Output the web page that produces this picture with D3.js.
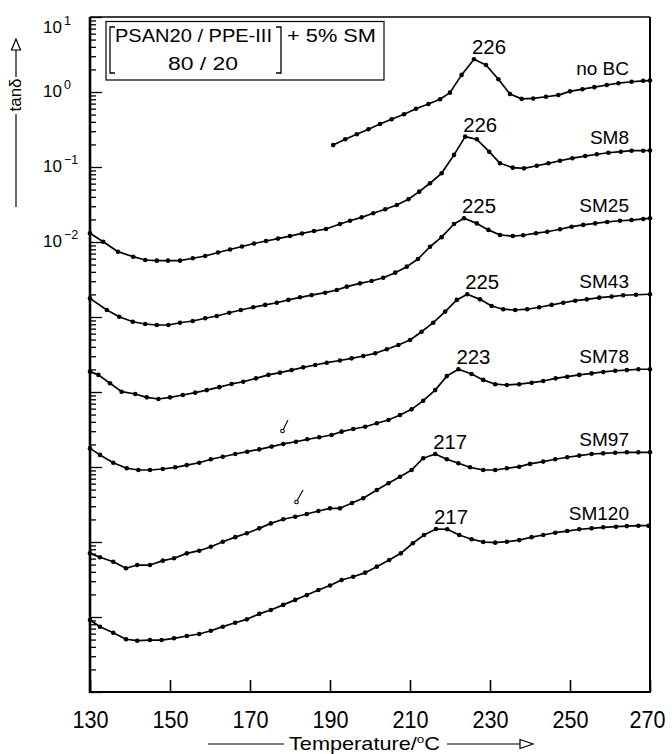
<!DOCTYPE html>
<html><head><meta charset="utf-8">
<script src="https://cdn.jsdelivr.net/npm/d3@7"></script>
<style>
html,body{margin:0;padding:0;background:#fff;}
svg{display:block;}
text{font-family:"Liberation Sans", Arial, Helvetica, sans-serif; fill:#000;}
.narrow{font-family:"Liberation Sans Narrow","Liberation Sans", Arial, sans-serif;}
</style></head><body>
<svg id="chart" width="672" height="754"></svg>
<script>
// ---------- DATA (temperature °C, tanδ) ----------
const seriesNames = ["no BC","SM8","SM25","SM43","SM78","SM97","SM120"];
const peakLabels  = ["226","226","225","225","223","217","217"];
const xTicks = [130,150,170,190,210,230,250,270];
const yLabelExps = [1,0,-1,-2];

const noBC = [[190.8,0.196],[193.8,0.234],[196.7,0.273],[199.6,0.318],[202.5,0.374],[205.4,0.433],[208.5,0.505],[211.5,0.599],[214.6,0.692],[217.5,0.80],[220,0.98],[222.9,1.69],[226,2.73],[229,2.29],[232.1,1.48],[235,0.94],[237.9,0.81],[240.8,0.82],[244,0.865],[247.1,0.91],[250,1.02],[253.1,1.09],[256.1,1.16],[259.2,1.24],[262.1,1.31],[265.4,1.37],[268.3,1.41],[270,1.42]];

const SM8 = [[130,1.31e-2],[133.3,1.01e-2],[137,7.43e-3],[140.8,6.37e-3],[143.8,5.75e-3],[146.7,5.64e-3],[149.5,5.64e-3],[152.5,5.64e-3],[155.7,6.07e-3],[158.8,6.5e-3],[162,7.24e-3],[165,7.94e-3],[168,8.71e-3],[171,9.55e-3],[174,1.03e-2],[177,1.11e-2],[180,1.2e-2],[183,1.3e-2],[186,1.4e-2],[189,1.49e-2],[192.5,1.74e-2],[195,1.92e-2],[197.9,2.13e-2],[200.8,2.42e-2],[203.8,2.73e-2],[206.7,3.11e-2],[209.6,3.71e-2],[212.3,4.69e-2],[215,6.07e-2],[217.9,8.24e-2],[221,0.145],[223.8,0.254],[226.7,0.234],[229.8,0.16],[232.5,0.112],[235.7,0.098],[238.5,0.096],[241.7,0.104],[244.6,0.112],[247.5,0.121],[250.6,0.131],[253.8,0.14],[256.7,0.148],[259.6,0.155],[262.7,0.16],[265.4,0.165],[268.3,0.165],[270,0.166]];

const SM25 = [[130,1.77e-3],[134.2,1.24e-3],[137.3,1.01e-3],[140.7,8.65e-4],[143.8,8.07e-4],[146.7,7.82e-4],[149.6,7.82e-4],[152.5,8.39e-4],[155.7,8.85e-4],[158.8,9.62e-4],[161.7,1.03e-3],[164.8,1.14e-3],[167.7,1.24e-3],[170.8,1.35e-3],[173.8,1.45e-3],[176.7,1.55e-3],[179.6,1.69e-3],[182.5,1.83e-3],[185.4,1.96e-3],[188.8,2.11e-3],[191.7,2.29e-3],[194.2,2.54e-3],[197.5,2.81e-3],[200.4,3.02e-3],[203.3,3.34e-3],[206.3,3.9e-3],[209.2,4.69e-3],[212,5.93e-3],[215,8.65e-3],[217.9,1.16e-2],[221,1.74e-2],[223.5,2.07e-2],[226.7,1.77e-2],[229.6,1.45e-2],[232.5,1.24e-2],[235.7,1.2e-2],[238.3,1.23e-2],[241.5,1.31e-2],[244.3,1.37e-2],[247.5,1.48e-2],[250.4,1.6e-2],[253.3,1.69e-2],[256.3,1.77e-2],[259.3,1.85e-2],[262.5,1.92e-2],[265.4,1.96e-2],[268.3,2.03e-2],[270,2.07e-2]];

const SM43 = [[130,1.87e-4],[132.1,1.69e-4],[135,1.31e-4],[137.9,1.01e-4],[141.3,9.4e-5],[144.2,8.49e-5],[147.1,8.07e-5],[150,8.49e-5],[153.2,9.12e-5],[156.3,9.8e-5],[159.2,1.06e-4],[162.3,1.16e-4],[165.4,1.28e-4],[168.3,1.37e-4],[171.5,1.52e-4],[174.6,1.69e-4],[177.5,1.81e-4],[180.4,1.96e-4],[183.3,2.13e-4],[186.3,2.29e-4],[189.2,2.46e-4],[192.5,2.63e-4],[195.4,2.81e-4],[198.3,3.02e-4],[201.3,3.28e-4],[204.2,3.71e-4],[207.1,4.24e-4],[210,4.93e-4],[212.9,6.37e-4],[215.8,8.39e-4],[218.8,1.18e-3],[221.7,1.69e-3],[224.3,2.01e-3],[227.5,1.72e-3],[230.4,1.4e-3],[233.3,1.27e-3],[236.3,1.24e-3],[239.3,1.27e-3],[242.3,1.35e-3],[245.4,1.45e-3],[248.3,1.55e-3],[251.3,1.65e-3],[254.2,1.72e-3],[257.3,1.81e-3],[260.4,1.87e-3],[263.3,1.95e-3],[266.5,1.98e-3],[270,2.01e-3]];

const SM78 = [[130,1.77e-5],[132.5,1.45e-5],[135.8,1.14e-5],[139.2,9.62e-6],[142.1,9.12e-6],[145,9.12e-6],[148.2,9.4e-6],[151.3,9.91e-6],[154.2,1.06e-5],[157.3,1.14e-5],[160.2,1.27e-5],[163.2,1.37e-5],[166.3,1.49e-5],[169.3,1.6e-5],[172.3,1.72e-5],[175.4,1.87e-5],[178.3,2.03e-5],[181.5,2.17e-5],[184.3,2.34e-5],[187.3,2.49e-5],[190.4,2.67e-5],[192.9,2.96e-5],[195.8,3.21e-5],[198.8,3.44e-5],[201.7,3.83e-5],[204.6,4.24e-5],[207.5,4.93e-5],[210.4,5.87e-5],[213.3,7.66e-5],[216.3,1.06e-4],[219.2,1.63e-4],[222.1,2.01e-4],[225.4,1.74e-4],[228.3,1.45e-4],[231.3,1.27e-4],[234.2,1.24e-4],[237.3,1.27e-4],[240.4,1.33e-4],[243.3,1.4e-4],[246.4,1.52e-4],[249.3,1.6e-4],[252.3,1.69e-4],[255.4,1.77e-4],[258.3,1.85e-4],[261.3,1.92e-4],[264.2,1.96e-4],[267.1,2.01e-4],[270,2.01e-4]];

const SM97 = [[130,7.06e-7],[132.5,6.25e-7],[135.8,5.46e-7],[139,4.46e-7],[141.8,4.93e-7],[145,4.93e-7],[148.2,5.64e-7],[151,6.07e-7],[154.2,7.06e-7],[157.3,7.66e-7],[160.2,8.65e-7],[163.2,1.01e-6],[166.3,1.16e-6],[169.2,1.31e-6],[172.3,1.52e-6],[175.2,1.77e-6],[178.3,2.01e-6],[181.3,2.17e-6],[184.2,2.36e-6],[187.1,2.59e-6],[190,2.81e-6],[192.5,2.81e-6],[195.5,3.31e-6],[198.3,3.83e-6],[201.7,4.93e-6],[204.6,6.07e-6],[207.5,7.43e-6],[210.4,9.12e-6],[213.3,1.31e-5],[216.3,1.49e-5],[219.2,1.27e-5],[222.1,1.12e-5],[225,9.91e-6],[228.3,9.12e-6],[231.3,9.12e-6],[234.2,9.62e-6],[237.3,1.01e-5],[240,1.1e-5],[243.3,1.18e-5],[246.3,1.27e-5],[249.3,1.35e-5],[252.3,1.42e-5],[255.4,1.49e-5],[258.3,1.52e-5],[261.3,1.55e-5],[264.2,1.57e-5],[267.1,1.57e-5],[270,1.57e-5]];

const SM120 = [[130,9.12e-8],[132.5,7.43e-8],[135.8,6.18e-8],[139,5.05e-8],[141.8,4.83e-8],[145,4.93e-8],[147.9,4.93e-8],[151,5.2e-8],[154.2,5.58e-8],[157.3,5.93e-8],[160.2,6.56e-8],[163.2,7.43e-8],[166.3,8.39e-8],[169.2,9.31e-8],[172.3,1.1e-7],[175.2,1.24e-7],[178.3,1.45e-7],[181.3,1.69e-7],[184.2,1.96e-7],[187.1,2.29e-7],[190,2.63e-7],[192.9,3.11e-7],[195.8,3.44e-7],[198.8,3.9e-7],[201.7,4.69e-7],[204.8,5.75e-7],[207.7,7.06e-7],[210.7,9.62e-7],[213.5,1.24e-6],[216.5,1.49e-6],[219.3,1.48e-6],[222.3,1.24e-6],[225.4,1.09e-6],[228.3,1e-6],[231.3,9.8e-7],[234.2,1.01e-6],[237.3,1.06e-6],[240.4,1.16e-6],[243.3,1.24e-6],[246.3,1.33e-6],[249.3,1.4e-6],[252.3,1.48e-6],[255.4,1.52e-6],[258.3,1.57e-6],[261.5,1.6e-6],[264.2,1.63e-6],[267.1,1.65e-6],[269.6,1.65e-6]];

const series = [noBC, SM8, SM25, SM43, SM78, SM97, SM120];

// ---------- LAYOUT ----------
const M = {left:90, right:650, top:17, bottom:692};
const x = d3.scaleLinear().domain([130,270]).range([M.left, M.right]);
const y = d3.scaleLog().domain([1e-8,10]).range([M.bottom, M.top]);
const svg = d3.select("#chart");

// ---------- X AXIS ----------
const gx = svg.append("g").attr("transform", `translate(0,${M.bottom})`)
  .call(d3.axisBottom(x).tickValues(xTicks).tickSizeInner(-12).tickSizeOuter(0)
        .tickPadding(19).tickFormat(d3.format("d")));
gx.select(".domain").remove();
gx.selectAll(".tick line").attr("stroke","#000").attr("stroke-width",1.6);
gx.selectAll(".tick text").attr("class","narrow").attr("font-size",24)
  .attr("dy",null).attr("y",36)
  .attr("x", d => d === 270 ? -3 : 0)
  .attr("textLength",36).attr("lengthAdjust","spacingAndGlyphs").attr("fill","#000");

// ---------- Y AXIS (log, inward ticks) ----------
const yTicks = [];
for (let e = -8; e <= 1; e++) {
  yTicks.push(Math.pow(10, e));
  if (e < 1) for (let k = 2; k <= 9; k++) yTicks.push(k * Math.pow(10, e));
}
const isMajor = d => Math.abs(Math.log10(d) - Math.round(Math.log10(d))) < 1e-9;
const gy = svg.append("g").attr("transform", `translate(${M.left},0)`)
  .call(d3.axisLeft(y).tickValues(yTicks).tickFormat("").tickSizeOuter(0));
gy.select(".domain").remove();
gy.selectAll(".tick line").attr("x2", d => isMajor(d) ? 12 : 6)
  .attr("stroke","#000").attr("stroke-width",1.3);

// y labels 10^n
yLabelExps.forEach(e => {
  const yy = Math.max(y(Math.pow(10, e)) + 5, 33);
  const t = svg.append("text").attr("class","narrow").attr("x",43).attr("y",yy).attr("font-size",17);
  t.append("tspan").text("10");
  t.append("tspan").attr("dx",2).attr("dy",-8).attr("font-size",12.5)
    .text(e < 0 ? "\u2212" + Math.abs(e) : String(e));
});

// ---------- FRAME ----------
const frame = svg.append("g").attr("stroke","#000").attr("fill","none");
frame.append("line").attr("x1",M.left).attr("x2",M.left).attr("y1",M.top).attr("y2",M.bottom+1).attr("stroke-width",2.6);
frame.append("line").attr("x1",M.left).attr("x2",M.right+1).attr("y1",M.bottom).attr("y2",M.bottom).attr("stroke-width",2.2);
frame.append("line").attr("x1",M.right).attr("x2",M.right).attr("y1",M.top).attr("y2",M.bottom).attr("stroke-width",2);
frame.append("line").attr("x1",M.left).attr("x2",M.right).attr("y1",M.top).attr("y2",M.top).attr("stroke-width",1.3);

// ---------- CURVES ----------
const line = d3.line().x(d => x(d[0])).y(d => y(d[1]));
series.forEach((s, i) => {
  const g = svg.append("g");
  g.append("path").datum(s).attr("d", line).attr("fill","none")
    .attr("stroke","#000").attr("stroke-width",1.7).attr("stroke-linejoin","round");
  g.selectAll("circle").data(s).join("circle")
    .attr("cx", d => x(d[0])).attr("cy", d => y(d[1])).attr("r", 2.3).attr("fill","#000");
  // series name at right end
  const last = s[s.length - 1];
  g.append("text").attr("x", 629).attr("y", y(last[1]) - 6).attr("text-anchor","end")
    .attr("font-size",19).text(seriesNames[i]);
  // peak label: highest point of the transition region
  const pk = s.filter(d => d[0] >= 205 && d[0] <= 232)
              .reduce((a, b) => b[1] > a[1] ? b : a);
  g.append("text").attr("x", x(pk[0]) - 2).attr("y", y(pk[1]) - 5)
    .attr("font-size",19.5).attr("textLength",34).attr("lengthAdjust","spacingAndGlyphs")
    .text(peakLabels[i]);
});

// small hand-drawn marks
const marks = svg.append("g").attr("stroke","#000").attr("fill","none").attr("stroke-width",1.1);
marks.append("path").attr("d","M288,420 L283.5,429");
marks.append("circle").attr("cx",282.5).attr("cy",431).attr("r",1.8);
marks.append("path").attr("d","M303,490 L297.5,500");
marks.append("circle").attr("cx",296.5).attr("cy",502).attr("r",1.8);

// ---------- LEGEND BOX ----------
const lg = svg.append("g");
lg.append("rect").attr("x",106).attr("y",21.5).attr("width",278).attr("height",58.5)
  .attr("fill","#fff").attr("stroke","#000").attr("stroke-width",1.2);
lg.append("path").attr("d","M115,27 L110,27 L110,73 L115,73 M276,27 L281,27 L281,73 L276,73")
  .attr("fill","none").attr("stroke","#000").attr("stroke-width",1.3);
lg.append("text").attr("x",115).attr("y",41.5).attr("font-size",19)
  .attr("textLength",157).attr("lengthAdjust","spacingAndGlyphs").text("PSAN20 / PPE-III");
lg.append("text").attr("x",287).attr("y",41.5).attr("font-size",19)
  .attr("textLength",89).attr("lengthAdjust","spacingAndGlyphs").text("+ 5% SM");
lg.append("text").attr("x",168).attr("y",70).attr("font-size",19)
  .attr("textLength",70).attr("lengthAdjust","spacingAndGlyphs").text("80 / 20");

// ---------- AXIS TITLES ----------
const at = svg.append("g").attr("stroke","#000").attr("stroke-width",1.2);
// y title
at.append("line").attr("x1",16).attr("x2",16).attr("y1",50).attr("y2",77);
at.append("line").attr("x1",16).attr("x2",16).attr("y1",114).attr("y2",207);
at.append("path").attr("d","M16,39 L11.5,50 L20.5,50 Z").attr("fill","#fff");
svg.append("text").attr("transform","translate(21,95) rotate(-90)").attr("text-anchor","middle")
  .attr("font-size",17).text("tan\u03b4");
// x title
at.append("line").attr("x1",208).attr("x2",284).attr("y1",744).attr("y2",744);
at.append("line").attr("x1",447).attr("x2",522).attr("y1",744).attr("y2",744);
at.append("path").attr("d","M520,739.5 L533,744 L520,748.5 Z").attr("fill","#fff");
const xt = svg.append("text").attr("x",289).attr("y",750).attr("font-size",18.5)
  .attr("textLength",151).attr("lengthAdjust","spacingAndGlyphs");
xt.append("tspan").text("Temperature/");
xt.append("tspan").attr("font-size",11.5).attr("dy",-7).text("o");
xt.append("tspan").attr("dy",7).text("C");
</script>
</body></html>
